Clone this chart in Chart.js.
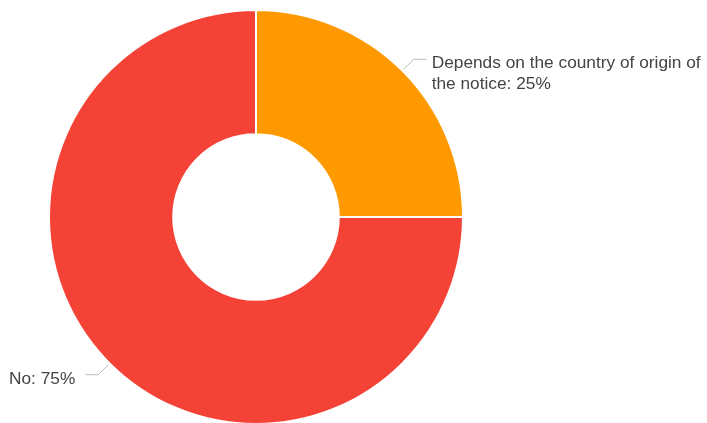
<!DOCTYPE html>
<html><head><meta charset="utf-8">
<script src="https://cdn.jsdelivr.net/npm/chart.js@4"></script>
<style>
html,body{margin:0;padding:0;background:#fff;overflow:hidden;}
#wrap{position:absolute;left:0;top:0;width:707px;height:430px;}
</style></head>
<body>
<div id="wrap"><canvas id="c"></canvas></div>
<script>
const categories = ["Depends on the country of origin of the notice", "No"];
const values = [25, 75];
const percentLabels = ["25%", "75%"];
const colors = ["#FF9900", "#F44336"];

const labelPlugin = {
  id: 'leaderLabels',
  afterDatasetsDraw(chart) {
    const ctx = chart.ctx;
    const meta = chart.getDatasetMeta(0);
    ctx.save();
    ctx.font = '17.3px "Liberation Sans", Arial, sans-serif';
    ctx.textBaseline = 'middle';
    meta.data.forEach((arc, i) => {
      const p = arc.getProps(['x','y','startAngle','endAngle','outerRadius'], true);
      const mid = (p.startAngle + p.endAngle) / 2;
      const r0 = p.outerRadius + 2;
      const r1 = p.outerRadius + 16;
      const sx = p.x + Math.cos(mid) * r0, sy = p.y + Math.sin(mid) * r0;
      const ex = p.x + Math.cos(mid) * r1, ey = p.y + Math.sin(mid) * r1;
      const right = Math.cos(mid) >= 0;
      const hx = ex + (right ? 13 : -13);
      ctx.strokeStyle = '#BDBDBD';
      ctx.lineWidth = 1;
      ctx.beginPath();
      ctx.moveTo(sx, sy); ctx.lineTo(ex, ey); ctx.lineTo(hx, ey);
      ctx.stroke();
      const text = categories[i] + ': ' + percentLabels[i];
      ctx.fillStyle = '#444444';
      if (right) {
        const tx = hx + 5;
        const maxW = chart.width - tx;
        const words = text.split(' ');
        const lines = [];
        let cur = '';
        words.forEach(w => {
          const t = cur ? cur + ' ' + w : w;
          if (ctx.measureText(t).width > maxW && cur) { lines.push(cur); cur = w; }
          else cur = t;
        });
        if (cur) lines.push(cur);
        ctx.textAlign = 'left';
        lines.forEach((l, k) => ctx.fillText(l, tx, ey + 4 + k * 21));
      } else {
        ctx.textAlign = 'right';
        ctx.fillText(text, hx - 10, ey + 5);
      }
    });
    ctx.restore();
  }
};

new Chart(document.getElementById('c'), {
  type: 'doughnut',
  data: {
    labels: categories,
    datasets: [{
      data: values,
      backgroundColor: colors,
      borderColor: '#FFFFFF',
      borderWidth: 2,
      hoverOffset: 0
    }]
  },
  options: {
    responsive: true,
    maintainAspectRatio: false,
    animation: false,
    cutout: '40%',
    layout: { padding: { left: 48, right: 243, top: 9, bottom: 5 } },
    plugins: { legend: { display: false }, tooltip: { enabled: false } }
  },
  plugins: [labelPlugin]
});
</script>
</body></html>
